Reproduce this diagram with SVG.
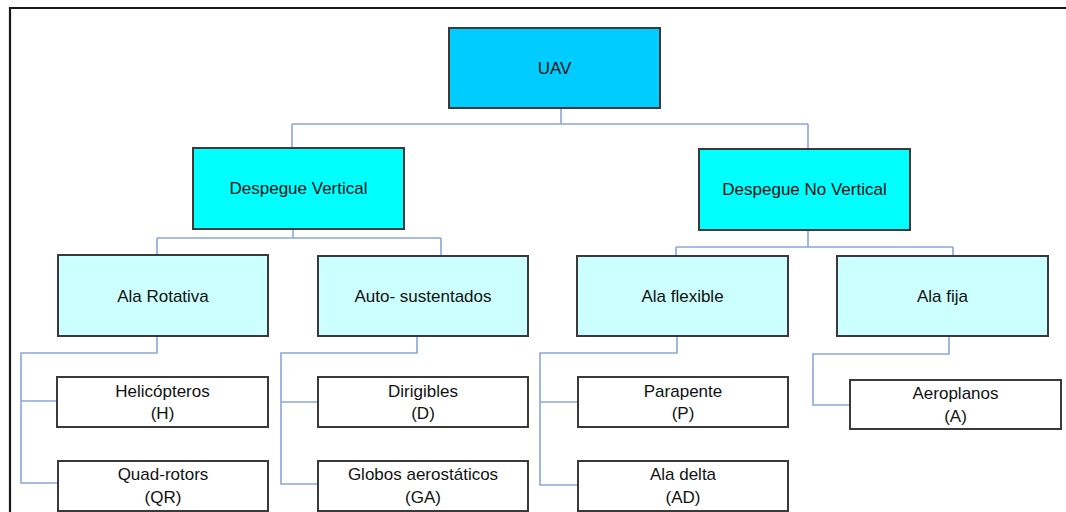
<svg xmlns="http://www.w3.org/2000/svg" width="1066" height="512" viewBox="0 0 1066 512">
  <style>
    .box { stroke: #3a3a3a; stroke-width: 2; }
    .root { fill: #00CCFF; }
    .mid { fill: #00FFFF; }
    .sub { fill: #CCFFFF; }
    .leaf { fill: #FFFFFF; }
    .lbl { font-family: "Liberation Sans", Arial, sans-serif; font-size: 17px; fill: #111; text-anchor: middle; }
    .conn { fill: none; stroke: #8AA6DA; stroke-width: 1.6; }
    .frame { fill: none; stroke: #1a1a1a; stroke-width: 2.2; }
  </style>

  <rect width="1066" height="512" fill="#FFFFFF"/>

  <!-- page frame -->
  <path class="frame" d="M10,512 V8 H1066"/>

  <!-- tree connectors -->
  <g id="connectors">
    <path class="conn" d="M561,108 V124 M292,124 H808 M292,124 V148 M808,124 V149"/>
    <path class="conn" d="M293,229 V238 M157,238 H441 M157,238 V255 M441,238 V256"/>
    <path class="conn" d="M808,230 V247 M676,247 H953 M676,247 V256 M953,247 V256"/>
    <path class="conn" d="M157,337 V353 H21 V483 H58 M21,401 H57"/>
    <path class="conn" d="M417,336 V353 H281 V484 H318 M281,402 H318"/>
    <path class="conn" d="M677,336 V353 H540 V485 H578 M540,402 H578"/>
    <path class="conn" d="M949,336 V354 H813 V405 H850"/>
  </g>

  <g id="uav">
    <rect class="box root" x="449" y="28" width="211" height="80"/>
    <text class="lbl" x="554.5" y="74">UAV</text>
  </g>

  <g id="despegue-vertical">
    <rect class="box mid" x="193" y="148" width="211" height="81"/>
    <text class="lbl" x="298.5" y="194">Despegue Vertical</text>
  </g>

  <g id="despegue-no-vertical">
    <rect class="box mid" x="699" y="149" width="211" height="81"/>
    <text class="lbl" x="804.5" y="195">Despegue No Vertical</text>
  </g>

  <g id="ala-rotativa">
    <rect class="box sub" x="58" y="255" width="210" height="81"/>
    <text class="lbl" x="163" y="302">Ala Rotativa</text>
  </g>

  <g id="auto-sustentados">
    <rect class="box sub" x="318" y="256" width="210" height="80"/>
    <text class="lbl" x="423" y="302">Auto- sustentados</text>
  </g>

  <g id="ala-flexible">
    <rect class="box sub" x="577" y="256" width="211" height="80"/>
    <text class="lbl" x="682.5" y="302">Ala flexible</text>
  </g>

  <g id="ala-fija">
    <rect class="box sub" x="837" y="256" width="211" height="80"/>
    <text class="lbl" x="942.5" y="302">Ala fija</text>
  </g>

  <g id="helicopteros">
    <rect class="box leaf" x="57" y="377" width="211" height="50"/>
    <text class="lbl" x="162.5" y="397">Helicópteros</text>
    <text class="lbl" x="162.5" y="419">(H)</text>
  </g>

  <g id="quad-rotors">
    <rect class="box leaf" x="58" y="461" width="210" height="50"/>
    <text class="lbl" x="163" y="480">Quad-rotors</text>
    <text class="lbl" x="163" y="503">(QR)</text>
  </g>

  <g id="dirigibles">
    <rect class="box leaf" x="318" y="377" width="210" height="50"/>
    <text class="lbl" x="423" y="397">Dirigibles</text>
    <text class="lbl" x="423" y="419">(D)</text>
  </g>

  <g id="globos">
    <rect class="box leaf" x="318" y="461" width="210" height="50"/>
    <text class="lbl" x="423" y="480">Globos aerostáticos</text>
    <text class="lbl" x="423" y="503">(GA)</text>
  </g>

  <g id="parapente">
    <rect class="box leaf" x="578" y="377" width="210" height="50"/>
    <text class="lbl" x="683" y="397">Parapente</text>
    <text class="lbl" x="683" y="419">(P)</text>
  </g>

  <g id="ala-delta">
    <rect class="box leaf" x="578" y="461" width="210" height="50"/>
    <text class="lbl" x="683" y="480">Ala delta</text>
    <text class="lbl" x="683" y="503">(AD)</text>
  </g>

  <g id="aeroplanos">
    <rect class="box leaf" x="850" y="380" width="211" height="49"/>
    <text class="lbl" x="955.5" y="399">Aeroplanos</text>
    <text class="lbl" x="955.5" y="422">(A)</text>
  </g>
</svg>
